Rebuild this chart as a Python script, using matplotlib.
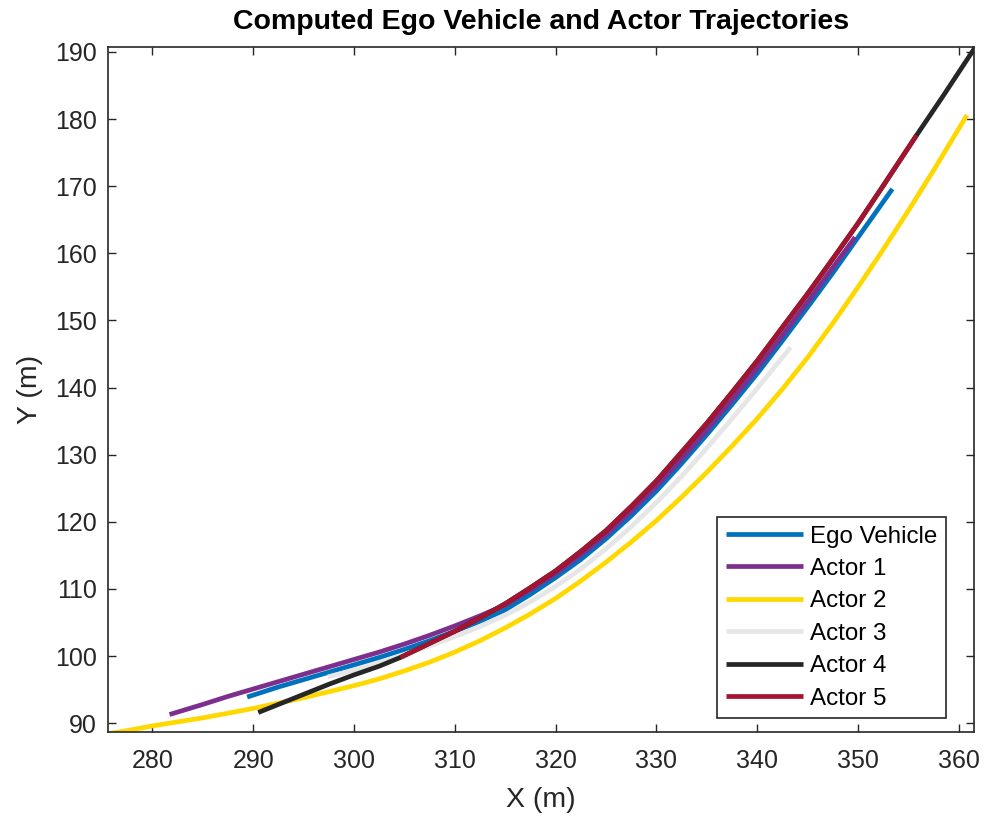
import matplotlib
matplotlib.use("Agg")
import matplotlib.pyplot as plt

plt.rcParams['font.family'] = ['Liberation Sans', 'DejaVu Sans']

# trajectories (x, y in metres)
ego_x = [289.4, 292.5, 295.0, 297.5, 300.0, 302.5, 305.0, 307.5, 310.0, 312.5, 315.0, 317.5, 320.0,
         322.5, 325.0, 327.5, 330.0, 332.5, 335.0, 337.5, 340.0, 342.5, 345.0, 347.5, 350.0, 353.4]
ego_y = [93.9, 95.4, 96.5, 97.6, 98.7, 99.8, 101.0, 102.3, 103.7, 105.2, 106.9, 109.2, 111.7,
         114.4, 117.5, 120.9, 124.6, 128.7, 133.0, 137.5, 142.1, 147.0, 152.0, 157.1, 162.4, 169.6]

actor1_x = [281.7, 285.0, 287.5, 290.0, 292.5, 295.0, 297.5, 300.0, 302.5, 305.0, 307.5, 310.0, 312.5,
            315.0, 317.5, 320.0, 322.5, 325.0, 327.5, 330.0, 332.5, 335.0, 337.5, 340.0, 342.5,
            345.0, 347.5, 349.7]
actor1_y = [91.3, 92.8, 94.0, 95.1, 96.2, 97.3, 98.4, 99.5, 100.6, 101.8, 103.1, 104.5, 106.0,
            107.6, 109.9, 112.3, 115.1, 118.1, 121.6, 125.3, 129.4, 133.7, 138.2, 142.9, 147.8,
            152.8, 157.9, 162.4]

actor2_x = [275.0, 277.5, 280.0, 282.5, 285.0, 287.5, 290.0, 292.5, 295.0, 297.5, 300.0, 302.5,
            305.0, 307.5, 310.0, 312.5, 315.0, 317.5, 320.0, 322.5, 325.0, 327.5, 330.0, 332.5,
            335.0, 337.5, 340.0, 342.5, 345.0, 347.5, 350.0, 352.5, 355.0, 357.5, 360.8]
actor2_y = [88.3, 88.9, 89.6, 90.2, 90.8, 91.5, 92.2, 93.0, 93.8, 94.7, 95.6, 96.6,
            97.8, 99.1, 100.6, 102.3, 104.2, 106.3, 108.6, 111.2, 114.0, 117.0, 120.2, 123.7,
            127.4, 131.3, 135.4, 139.8, 144.5, 149.6, 155.0, 160.6, 166.4, 172.4, 180.6]

actor3_x = [297.4, 300.0, 302.5, 305.0, 307.5, 310.0, 312.5, 315.0, 317.5, 320.0, 322.5, 325.0,
            327.5, 330.0, 332.5, 335.0, 337.5, 340.0, 343.3]
actor3_y = [96.9, 97.9, 99.0, 100.2, 101.5, 102.9, 104.4, 106.1, 108.1, 110.4, 113.0, 116.0,
            119.3, 122.9, 126.8, 131.0, 135.4, 139.9, 146.0]

actor4_x = [290.5, 292.5, 295.0, 297.5, 300.0, 302.5, 304.6, 307.5, 310.0, 312.5, 315.0, 317.5,
            320.0, 322.5, 325.0, 327.5, 330.0, 332.5, 335.0, 337.5, 340.0, 342.5, 345.0, 347.5,
            350.0, 352.5, 355.8, 358.5, 361.7]
actor4_y = [91.6, 92.8, 94.3, 95.8, 97.2, 98.5, 99.8, 101.9, 103.7, 105.7, 107.8, 110.2,
            112.7, 115.6, 118.7, 122.3, 126.1, 130.4, 134.7, 139.3, 144.0, 149.0, 154.0, 159.2,
            164.5, 170.1, 177.6, 183.6, 190.9]

actor5_x = [304.6, 307.5, 310.0, 312.5, 315.0, 317.5, 320.0, 322.5, 325.0, 327.5, 330.0, 332.5,
            335.0, 337.5, 340.0, 342.5, 345.0, 347.5, 350.0, 352.5, 355.8]
actor5_y = [99.8, 101.9, 103.7, 105.7, 107.8, 110.2, 112.7, 115.6, 118.7, 122.3, 126.1, 130.4,
            134.7, 139.3, 144.0, 149.0, 154.0, 159.2, 164.5, 170.1, 177.6]

labels = ['Ego Vehicle', 'Actor 1', 'Actor 2', 'Actor 3', 'Actor 4', 'Actor 5']
colors = ['#0072BD', '#7E2F8E', '#FFD800', '#E6E6E6', '#262626', '#A2142F']

fig = plt.figure(figsize=(9.84, 8.16), dpi=100)
ax = fig.add_axes([0.1098, 0.103, 0.8801, 0.8395])

series = [(ego_x, ego_y), (actor1_x, actor1_y), (actor2_x, actor2_y),
          (actor3_x, actor3_y), (actor4_x, actor4_y), (actor5_x, actor5_y)]
for (xs, ys), lab, col in zip(series, labels, colors):
    ax.plot(xs, ys, color=col, lw=3.4, label=lab, solid_capstyle='butt',
            solid_joinstyle='round')

ax.set_xlim(275.6, 361.5)
ax.set_ylim(88.7, 190.75)
ax.set_xticks(range(280, 361, 10))
ax.set_yticks(range(90, 191, 10))
ax.tick_params(direction='in', top=True, right=True, length=6, width=1,
               labelsize=18, colors='#262626')
ax.tick_params(axis='x', pad=12)
ax.tick_params(axis='y', pad=8)
for sp in ax.spines.values():
    sp.set_color('#262626')
    sp.set_linewidth(1.2)

ax.set_title('Computed Ego Vehicle and Actor Trajectories', fontsize=20.5,
             fontweight='bold', pad=13)
ax.set_xlabel('X (m)', fontsize=20.5, color='#262626', labelpad=10)
ax.set_ylabel('Y (m)', fontsize=20.5, color='#262626', labelpad=9)

leg = ax.legend(loc='lower right', fontsize=17.4, handlelength=3.2,
                handletextpad=0.3, labelspacing=0.43, borderpad=0.35,
                borderaxespad=0, fancybox=False, framealpha=1,
                edgecolor='#262626', bbox_to_anchor=(0.9677, 0.0204))
leg.get_frame().set_linewidth(1.2)

fig.savefig('out.png', dpi=100)
